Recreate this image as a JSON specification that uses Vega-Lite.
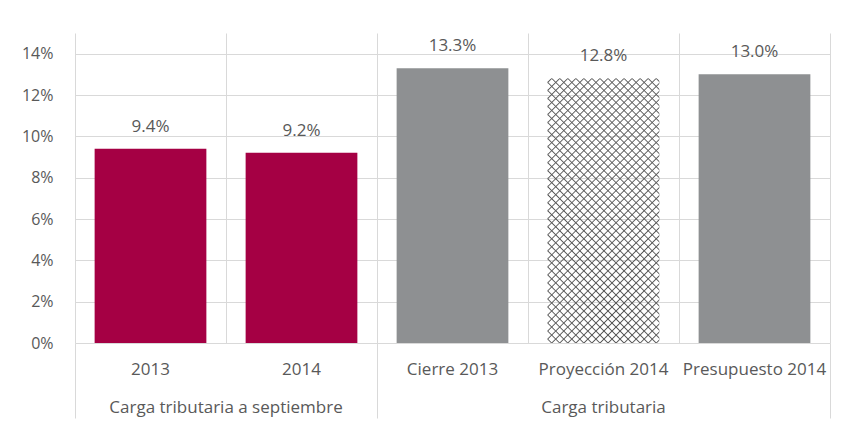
{
  "$schema": "https://vega.github.io/schema/vega-lite/v6.json",
  "width": 755,
  "height": 310,
  "autosize": {"type": "none"},
  "padding": {"left": 75, "top": 33, "right": 13, "bottom": 81},
  "background": "white",
  "config": {"view": {"stroke": null}, "font": "Open Sans"},
  "data": {"values": [
    {"cat": "2013", "value": 0.094, "serie": "sept"},
    {"cat": "2014", "value": 0.092, "serie": "sept"},
    {"cat": "Cierre 2013", "value": 0.133, "serie": "anual"},
    {"cat": "Proyección 2014", "value": 0.128, "serie": "proy"},
    {"cat": "Presupuesto 2014", "value": 0.130, "serie": "anual"}
  ]},
  "layer": [
    {
      "mark": {"type": "bar", "width": {"band": 0.74}},
      "encoding": {
        "x": {"field": "cat", "type": "nominal", "sort": null,
          "scale": {"domain": ["2013", "2014", "Cierre 2013", "Proyección 2014", "Presupuesto 2014"], "paddingInner": 0, "paddingOuter": 0},
          "axis": {"title": null, "bandPosition": 1, "tickExtra": true, "grid": true, "gridColor": "#d9d9d9", "gridWidth": 1,
            "domain": false, "ticks": true, "tickSize": 75, "tickColor": "#d9d9d9", "tickWidth": 1,
            "tickOpacity": {"condition": {"test": "datum.extra || datum.index < 0 || datum.value == '2014' || datum.value == 'Presupuesto 2014'", "value": 1}, "value": 0},
            "labelPadding": -49, "labelAngle": 0, "labelFont": "Open Sans", "labelFontSize": 17, "labelColor": "#595959", "labelBaseline": "middle"}},
        "y": {"field": "value", "type": "quantitative",
          "scale": {"domain": [0, 0.15], "nice": false},
          "axis": {"title": null, "values": [0, 0.02, 0.04, 0.06, 0.08, 0.1, 0.12, 0.14], "format": ".0%", "grid": true, "gridColor": "#d9d9d9",
            "domain": false, "ticks": false, "labelPadding": 22, "labelFont": "Open Sans", "labelFontSize": 16, "labelColor": "#595959"}},
        "color": {"field": "serie", "type": "nominal", "legend": null,
          "scale": {"domain": ["sept", "anual", "proy"], "range": ["#A50044", "#8E9092", "rgba(0,0,0,0)"]}}
      }
    },
    {
      "transform": [{"filter": "datum.serie == 'proy'"}],
      "mark": {"type": "bar", "width": {"band": 0.74},
        "fill": {"gradient": "linear", "x1": 0, "y1": 0, "x2": 0.51, "y2": 1.21, "stops": [
          {"offset":0.0071,"color":"rgba(90,90,90,0)"},{"offset":0.0106,"color":"#5a5a5a"},{"offset":0.0141,"color":"rgba(90,90,90,0)"},
          {"offset":0.0284,"color":"rgba(90,90,90,0)"},{"offset":0.0319,"color":"#5a5a5a"},{"offset":0.0354,"color":"rgba(90,90,90,0)"},
          {"offset":0.0497,"color":"rgba(90,90,90,0)"},{"offset":0.0532,"color":"#5a5a5a"},{"offset":0.0567,"color":"rgba(90,90,90,0)"},
          {"offset":0.0710,"color":"rgba(90,90,90,0)"},{"offset":0.0745,"color":"#5a5a5a"},{"offset":0.0780,"color":"rgba(90,90,90,0)"},
          {"offset":0.0922,"color":"rgba(90,90,90,0)"},{"offset":0.0957,"color":"#5a5a5a"},{"offset":0.0992,"color":"rgba(90,90,90,0)"},
          {"offset":0.1135,"color":"rgba(90,90,90,0)"},{"offset":0.1170,"color":"#5a5a5a"},{"offset":0.1205,"color":"rgba(90,90,90,0)"},
          {"offset":0.1348,"color":"rgba(90,90,90,0)"},{"offset":0.1383,"color":"#5a5a5a"},{"offset":0.1418,"color":"rgba(90,90,90,0)"},
          {"offset":0.1561,"color":"rgba(90,90,90,0)"},{"offset":0.1596,"color":"#5a5a5a"},{"offset":0.1631,"color":"rgba(90,90,90,0)"},
          {"offset":0.1774,"color":"rgba(90,90,90,0)"},{"offset":0.1809,"color":"#5a5a5a"},{"offset":0.1844,"color":"rgba(90,90,90,0)"},
          {"offset":0.1986,"color":"rgba(90,90,90,0)"},{"offset":0.2021,"color":"#5a5a5a"},{"offset":0.2056,"color":"rgba(90,90,90,0)"},
          {"offset":0.2199,"color":"rgba(90,90,90,0)"},{"offset":0.2234,"color":"#5a5a5a"},{"offset":0.2269,"color":"rgba(90,90,90,0)"},
          {"offset":0.2412,"color":"rgba(90,90,90,0)"},{"offset":0.2447,"color":"#5a5a5a"},{"offset":0.2482,"color":"rgba(90,90,90,0)"},
          {"offset":0.2625,"color":"rgba(90,90,90,0)"},{"offset":0.2660,"color":"#5a5a5a"},{"offset":0.2695,"color":"rgba(90,90,90,0)"},
          {"offset":0.2837,"color":"rgba(90,90,90,0)"},{"offset":0.2872,"color":"#5a5a5a"},{"offset":0.2907,"color":"rgba(90,90,90,0)"},
          {"offset":0.3050,"color":"rgba(90,90,90,0)"},{"offset":0.3085,"color":"#5a5a5a"},{"offset":0.3120,"color":"rgba(90,90,90,0)"},
          {"offset":0.3263,"color":"rgba(90,90,90,0)"},{"offset":0.3298,"color":"#5a5a5a"},{"offset":0.3333,"color":"rgba(90,90,90,0)"},
          {"offset":0.3476,"color":"rgba(90,90,90,0)"},{"offset":0.3511,"color":"#5a5a5a"},{"offset":0.3546,"color":"rgba(90,90,90,0)"},
          {"offset":0.3688,"color":"rgba(90,90,90,0)"},{"offset":0.3723,"color":"#5a5a5a"},{"offset":0.3758,"color":"rgba(90,90,90,0)"},
          {"offset":0.3901,"color":"rgba(90,90,90,0)"},{"offset":0.3936,"color":"#5a5a5a"},{"offset":0.3971,"color":"rgba(90,90,90,0)"},
          {"offset":0.4114,"color":"rgba(90,90,90,0)"},{"offset":0.4149,"color":"#5a5a5a"},{"offset":0.4184,"color":"rgba(90,90,90,0)"},
          {"offset":0.4327,"color":"rgba(90,90,90,0)"},{"offset":0.4362,"color":"#5a5a5a"},{"offset":0.4397,"color":"rgba(90,90,90,0)"},
          {"offset":0.4539,"color":"rgba(90,90,90,0)"},{"offset":0.4574,"color":"#5a5a5a"},{"offset":0.4609,"color":"rgba(90,90,90,0)"},
          {"offset":0.4752,"color":"rgba(90,90,90,0)"},{"offset":0.4787,"color":"#5a5a5a"},{"offset":0.4822,"color":"rgba(90,90,90,0)"},
          {"offset":0.4965,"color":"rgba(90,90,90,0)"},{"offset":0.5000,"color":"#5a5a5a"},{"offset":0.5035,"color":"rgba(90,90,90,0)"},
          {"offset":0.5178,"color":"rgba(90,90,90,0)"},{"offset":0.5213,"color":"#5a5a5a"},{"offset":0.5248,"color":"rgba(90,90,90,0)"},
          {"offset":0.5391,"color":"rgba(90,90,90,0)"},{"offset":0.5426,"color":"#5a5a5a"},{"offset":0.5461,"color":"rgba(90,90,90,0)"},
          {"offset":0.5603,"color":"rgba(90,90,90,0)"},{"offset":0.5638,"color":"#5a5a5a"},{"offset":0.5673,"color":"rgba(90,90,90,0)"},
          {"offset":0.5816,"color":"rgba(90,90,90,0)"},{"offset":0.5851,"color":"#5a5a5a"},{"offset":0.5886,"color":"rgba(90,90,90,0)"},
          {"offset":0.6029,"color":"rgba(90,90,90,0)"},{"offset":0.6064,"color":"#5a5a5a"},{"offset":0.6099,"color":"rgba(90,90,90,0)"},
          {"offset":0.6242,"color":"rgba(90,90,90,0)"},{"offset":0.6277,"color":"#5a5a5a"},{"offset":0.6312,"color":"rgba(90,90,90,0)"},
          {"offset":0.6454,"color":"rgba(90,90,90,0)"},{"offset":0.6489,"color":"#5a5a5a"},{"offset":0.6524,"color":"rgba(90,90,90,0)"},
          {"offset":0.6667,"color":"rgba(90,90,90,0)"},{"offset":0.6702,"color":"#5a5a5a"},{"offset":0.6737,"color":"rgba(90,90,90,0)"},
          {"offset":0.6880,"color":"rgba(90,90,90,0)"},{"offset":0.6915,"color":"#5a5a5a"},{"offset":0.6950,"color":"rgba(90,90,90,0)"},
          {"offset":0.7093,"color":"rgba(90,90,90,0)"},{"offset":0.7128,"color":"#5a5a5a"},{"offset":0.7163,"color":"rgba(90,90,90,0)"},
          {"offset":0.7305,"color":"rgba(90,90,90,0)"},{"offset":0.7340,"color":"#5a5a5a"},{"offset":0.7375,"color":"rgba(90,90,90,0)"},
          {"offset":0.7518,"color":"rgba(90,90,90,0)"},{"offset":0.7553,"color":"#5a5a5a"},{"offset":0.7588,"color":"rgba(90,90,90,0)"},
          {"offset":0.7731,"color":"rgba(90,90,90,0)"},{"offset":0.7766,"color":"#5a5a5a"},{"offset":0.7801,"color":"rgba(90,90,90,0)"},
          {"offset":0.7944,"color":"rgba(90,90,90,0)"},{"offset":0.7979,"color":"#5a5a5a"},{"offset":0.8014,"color":"rgba(90,90,90,0)"},
          {"offset":0.8156,"color":"rgba(90,90,90,0)"},{"offset":0.8191,"color":"#5a5a5a"},{"offset":0.8226,"color":"rgba(90,90,90,0)"},
          {"offset":0.8369,"color":"rgba(90,90,90,0)"},{"offset":0.8404,"color":"#5a5a5a"},{"offset":0.8439,"color":"rgba(90,90,90,0)"},
          {"offset":0.8582,"color":"rgba(90,90,90,0)"},{"offset":0.8617,"color":"#5a5a5a"},{"offset":0.8652,"color":"rgba(90,90,90,0)"},
          {"offset":0.8795,"color":"rgba(90,90,90,0)"},{"offset":0.8830,"color":"#5a5a5a"},{"offset":0.8865,"color":"rgba(90,90,90,0)"},
          {"offset":0.9008,"color":"rgba(90,90,90,0)"},{"offset":0.9043,"color":"#5a5a5a"},{"offset":0.9078,"color":"rgba(90,90,90,0)"},
          {"offset":0.9220,"color":"rgba(90,90,90,0)"},{"offset":0.9255,"color":"#5a5a5a"},{"offset":0.9290,"color":"rgba(90,90,90,0)"},
          {"offset":0.9433,"color":"rgba(90,90,90,0)"},{"offset":0.9468,"color":"#5a5a5a"},{"offset":0.9503,"color":"rgba(90,90,90,0)"},
          {"offset":0.9646,"color":"rgba(90,90,90,0)"},{"offset":0.9681,"color":"#5a5a5a"},{"offset":0.9716,"color":"rgba(90,90,90,0)"},
          {"offset":0.9859,"color":"rgba(90,90,90,0)"},{"offset":0.9894,"color":"#5a5a5a"},{"offset":0.9929,"color":"rgba(90,90,90,0)"}
        ]}},
      "encoding": {
        "x": {"field": "cat", "type": "nominal", "sort": null,
          "scale": {"domain": ["2013", "2014", "Cierre 2013", "Proyección 2014", "Presupuesto 2014"], "paddingInner": 0, "paddingOuter": 0}},
        "y": {"field": "value", "type": "quantitative", "scale": {"domain": [0, 0.15], "nice": false}}
      }
    },
    {
      "transform": [{"filter": "datum.serie == 'proy'"}],
      "mark": {"type": "bar", "width": {"band": 0.74},
        "fill": {"gradient": "linear", "x1": 0, "y1": 1, "x2": 0.51, "y2": -0.21, "stops": [
          {"offset":0.0071,"color":"rgba(90,90,90,0)"},{"offset":0.0106,"color":"#5a5a5a"},{"offset":0.0141,"color":"rgba(90,90,90,0)"},
          {"offset":0.0284,"color":"rgba(90,90,90,0)"},{"offset":0.0319,"color":"#5a5a5a"},{"offset":0.0354,"color":"rgba(90,90,90,0)"},
          {"offset":0.0497,"color":"rgba(90,90,90,0)"},{"offset":0.0532,"color":"#5a5a5a"},{"offset":0.0567,"color":"rgba(90,90,90,0)"},
          {"offset":0.0710,"color":"rgba(90,90,90,0)"},{"offset":0.0745,"color":"#5a5a5a"},{"offset":0.0780,"color":"rgba(90,90,90,0)"},
          {"offset":0.0922,"color":"rgba(90,90,90,0)"},{"offset":0.0957,"color":"#5a5a5a"},{"offset":0.0992,"color":"rgba(90,90,90,0)"},
          {"offset":0.1135,"color":"rgba(90,90,90,0)"},{"offset":0.1170,"color":"#5a5a5a"},{"offset":0.1205,"color":"rgba(90,90,90,0)"},
          {"offset":0.1348,"color":"rgba(90,90,90,0)"},{"offset":0.1383,"color":"#5a5a5a"},{"offset":0.1418,"color":"rgba(90,90,90,0)"},
          {"offset":0.1561,"color":"rgba(90,90,90,0)"},{"offset":0.1596,"color":"#5a5a5a"},{"offset":0.1631,"color":"rgba(90,90,90,0)"},
          {"offset":0.1774,"color":"rgba(90,90,90,0)"},{"offset":0.1809,"color":"#5a5a5a"},{"offset":0.1844,"color":"rgba(90,90,90,0)"},
          {"offset":0.1986,"color":"rgba(90,90,90,0)"},{"offset":0.2021,"color":"#5a5a5a"},{"offset":0.2056,"color":"rgba(90,90,90,0)"},
          {"offset":0.2199,"color":"rgba(90,90,90,0)"},{"offset":0.2234,"color":"#5a5a5a"},{"offset":0.2269,"color":"rgba(90,90,90,0)"},
          {"offset":0.2412,"color":"rgba(90,90,90,0)"},{"offset":0.2447,"color":"#5a5a5a"},{"offset":0.2482,"color":"rgba(90,90,90,0)"},
          {"offset":0.2625,"color":"rgba(90,90,90,0)"},{"offset":0.2660,"color":"#5a5a5a"},{"offset":0.2695,"color":"rgba(90,90,90,0)"},
          {"offset":0.2837,"color":"rgba(90,90,90,0)"},{"offset":0.2872,"color":"#5a5a5a"},{"offset":0.2907,"color":"rgba(90,90,90,0)"},
          {"offset":0.3050,"color":"rgba(90,90,90,0)"},{"offset":0.3085,"color":"#5a5a5a"},{"offset":0.3120,"color":"rgba(90,90,90,0)"},
          {"offset":0.3263,"color":"rgba(90,90,90,0)"},{"offset":0.3298,"color":"#5a5a5a"},{"offset":0.3333,"color":"rgba(90,90,90,0)"},
          {"offset":0.3476,"color":"rgba(90,90,90,0)"},{"offset":0.3511,"color":"#5a5a5a"},{"offset":0.3546,"color":"rgba(90,90,90,0)"},
          {"offset":0.3688,"color":"rgba(90,90,90,0)"},{"offset":0.3723,"color":"#5a5a5a"},{"offset":0.3758,"color":"rgba(90,90,90,0)"},
          {"offset":0.3901,"color":"rgba(90,90,90,0)"},{"offset":0.3936,"color":"#5a5a5a"},{"offset":0.3971,"color":"rgba(90,90,90,0)"},
          {"offset":0.4114,"color":"rgba(90,90,90,0)"},{"offset":0.4149,"color":"#5a5a5a"},{"offset":0.4184,"color":"rgba(90,90,90,0)"},
          {"offset":0.4327,"color":"rgba(90,90,90,0)"},{"offset":0.4362,"color":"#5a5a5a"},{"offset":0.4397,"color":"rgba(90,90,90,0)"},
          {"offset":0.4539,"color":"rgba(90,90,90,0)"},{"offset":0.4574,"color":"#5a5a5a"},{"offset":0.4609,"color":"rgba(90,90,90,0)"},
          {"offset":0.4752,"color":"rgba(90,90,90,0)"},{"offset":0.4787,"color":"#5a5a5a"},{"offset":0.4822,"color":"rgba(90,90,90,0)"},
          {"offset":0.4965,"color":"rgba(90,90,90,0)"},{"offset":0.5000,"color":"#5a5a5a"},{"offset":0.5035,"color":"rgba(90,90,90,0)"},
          {"offset":0.5178,"color":"rgba(90,90,90,0)"},{"offset":0.5213,"color":"#5a5a5a"},{"offset":0.5248,"color":"rgba(90,90,90,0)"},
          {"offset":0.5391,"color":"rgba(90,90,90,0)"},{"offset":0.5426,"color":"#5a5a5a"},{"offset":0.5461,"color":"rgba(90,90,90,0)"},
          {"offset":0.5603,"color":"rgba(90,90,90,0)"},{"offset":0.5638,"color":"#5a5a5a"},{"offset":0.5673,"color":"rgba(90,90,90,0)"},
          {"offset":0.5816,"color":"rgba(90,90,90,0)"},{"offset":0.5851,"color":"#5a5a5a"},{"offset":0.5886,"color":"rgba(90,90,90,0)"},
          {"offset":0.6029,"color":"rgba(90,90,90,0)"},{"offset":0.6064,"color":"#5a5a5a"},{"offset":0.6099,"color":"rgba(90,90,90,0)"},
          {"offset":0.6242,"color":"rgba(90,90,90,0)"},{"offset":0.6277,"color":"#5a5a5a"},{"offset":0.6312,"color":"rgba(90,90,90,0)"},
          {"offset":0.6454,"color":"rgba(90,90,90,0)"},{"offset":0.6489,"color":"#5a5a5a"},{"offset":0.6524,"color":"rgba(90,90,90,0)"},
          {"offset":0.6667,"color":"rgba(90,90,90,0)"},{"offset":0.6702,"color":"#5a5a5a"},{"offset":0.6737,"color":"rgba(90,90,90,0)"},
          {"offset":0.6880,"color":"rgba(90,90,90,0)"},{"offset":0.6915,"color":"#5a5a5a"},{"offset":0.6950,"color":"rgba(90,90,90,0)"},
          {"offset":0.7093,"color":"rgba(90,90,90,0)"},{"offset":0.7128,"color":"#5a5a5a"},{"offset":0.7163,"color":"rgba(90,90,90,0)"},
          {"offset":0.7305,"color":"rgba(90,90,90,0)"},{"offset":0.7340,"color":"#5a5a5a"},{"offset":0.7375,"color":"rgba(90,90,90,0)"},
          {"offset":0.7518,"color":"rgba(90,90,90,0)"},{"offset":0.7553,"color":"#5a5a5a"},{"offset":0.7588,"color":"rgba(90,90,90,0)"},
          {"offset":0.7731,"color":"rgba(90,90,90,0)"},{"offset":0.7766,"color":"#5a5a5a"},{"offset":0.7801,"color":"rgba(90,90,90,0)"},
          {"offset":0.7944,"color":"rgba(90,90,90,0)"},{"offset":0.7979,"color":"#5a5a5a"},{"offset":0.8014,"color":"rgba(90,90,90,0)"},
          {"offset":0.8156,"color":"rgba(90,90,90,0)"},{"offset":0.8191,"color":"#5a5a5a"},{"offset":0.8226,"color":"rgba(90,90,90,0)"},
          {"offset":0.8369,"color":"rgba(90,90,90,0)"},{"offset":0.8404,"color":"#5a5a5a"},{"offset":0.8439,"color":"rgba(90,90,90,0)"},
          {"offset":0.8582,"color":"rgba(90,90,90,0)"},{"offset":0.8617,"color":"#5a5a5a"},{"offset":0.8652,"color":"rgba(90,90,90,0)"},
          {"offset":0.8795,"color":"rgba(90,90,90,0)"},{"offset":0.8830,"color":"#5a5a5a"},{"offset":0.8865,"color":"rgba(90,90,90,0)"},
          {"offset":0.9008,"color":"rgba(90,90,90,0)"},{"offset":0.9043,"color":"#5a5a5a"},{"offset":0.9078,"color":"rgba(90,90,90,0)"},
          {"offset":0.9220,"color":"rgba(90,90,90,0)"},{"offset":0.9255,"color":"#5a5a5a"},{"offset":0.9290,"color":"rgba(90,90,90,0)"},
          {"offset":0.9433,"color":"rgba(90,90,90,0)"},{"offset":0.9468,"color":"#5a5a5a"},{"offset":0.9503,"color":"rgba(90,90,90,0)"},
          {"offset":0.9646,"color":"rgba(90,90,90,0)"},{"offset":0.9681,"color":"#5a5a5a"},{"offset":0.9716,"color":"rgba(90,90,90,0)"},
          {"offset":0.9859,"color":"rgba(90,90,90,0)"},{"offset":0.9894,"color":"#5a5a5a"},{"offset":0.9929,"color":"rgba(90,90,90,0)"}
        ]}},
      "encoding": {
        "x": {"field": "cat", "type": "nominal", "sort": null,
          "scale": {"domain": ["2013", "2014", "Cierre 2013", "Proyección 2014", "Presupuesto 2014"], "paddingInner": 0, "paddingOuter": 0}},
        "y": {"field": "value", "type": "quantitative", "scale": {"domain": [0, 0.15], "nice": false}}
      }
    },
    {
      "mark": {"type": "text", "baseline": "middle", "dy": -22, "fontSize": 17, "font": "Open Sans", "color": "#595959"},
      "encoding": {
        "x": {"field": "cat", "type": "nominal", "sort": null,
          "scale": {"domain": ["2013", "2014", "Cierre 2013", "Proyección 2014", "Presupuesto 2014"], "paddingInner": 0, "paddingOuter": 0}},
        "y": {"field": "value", "type": "quantitative", "scale": {"domain": [0, 0.15], "nice": false}},
        "text": {"field": "value", "type": "quantitative", "format": ".1%"}
      }
    },
    {
      "data": {"values": [{"cat": "2013", "grupo": "Carga tributaria a septiembre"}]},
      "mark": {"type": "text", "baseline": "middle", "dy": 65, "fontSize": 17, "font": "Open Sans", "color": "#595959"},
      "encoding": {
        "x": {"field": "cat", "type": "nominal", "sort": null, "bandPosition": 1,
          "scale": {"domain": ["2013", "2014", "Cierre 2013", "Proyección 2014", "Presupuesto 2014"], "paddingInner": 0, "paddingOuter": 0}},
        "y": {"datum": 0, "type": "quantitative", "scale": {"domain": [0, 0.15], "nice": false}},
        "text": {"field": "grupo", "type": "nominal"}
      }
    },
    {
      "data": {"values": [{"cat": "Proyección 2014", "grupo": "Carga tributaria"}]},
      "mark": {"type": "text", "baseline": "middle", "dy": 65, "fontSize": 17, "font": "Open Sans", "color": "#595959"},
      "encoding": {
        "x": {"field": "cat", "type": "nominal", "sort": null, "bandPosition": 0.5,
          "scale": {"domain": ["2013", "2014", "Cierre 2013", "Proyección 2014", "Presupuesto 2014"], "paddingInner": 0, "paddingOuter": 0}},
        "y": {"datum": 0, "type": "quantitative", "scale": {"domain": [0, 0.15], "nice": false}},
        "text": {"field": "grupo", "type": "nominal"}
      }
    }
  ]
}
